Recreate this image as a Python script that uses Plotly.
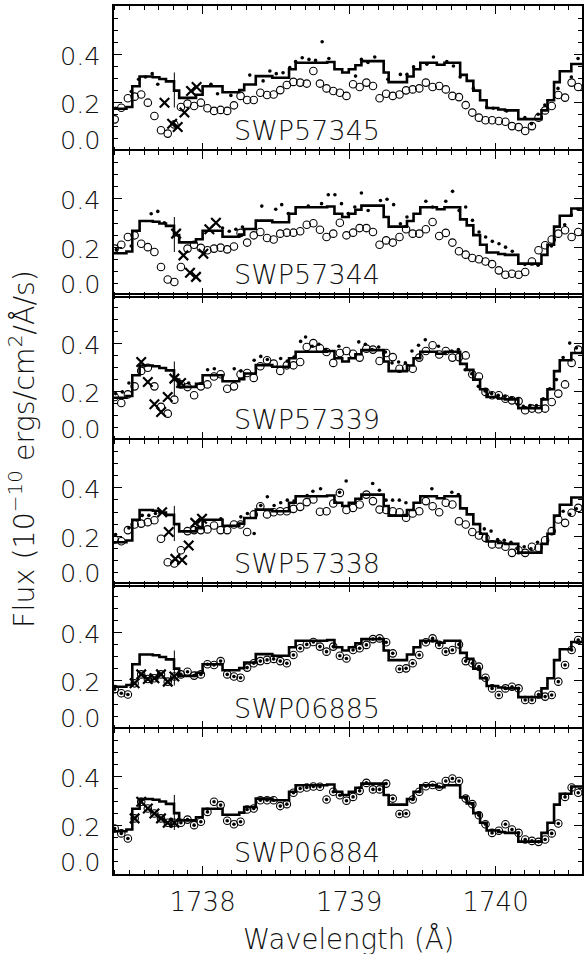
import plotly.graph_objects as go

# ---------------- data ----------------
spectra = ["SWP57345", "SWP57344", "SWP57339", "SWP57338", "SWP06885", "SWP06884"]

# model step line (left bin edges, flux in 1e-10 erg/cm2/A/s)
model_edges = [1737.39, 1737.48, 1737.52, 1737.57, 1737.66, 1737.705, 1737.75, 1737.805, 1737.84, 1737.955,
               1738.0, 1738.136, 1738.25, 1738.284, 1738.363, 1738.476, 1738.59, 1738.635, 1738.85, 1738.90,
               1738.953, 1738.998, 1739.043, 1739.084, 1739.236, 1739.27, 1739.395, 1739.44, 1739.486, 1739.599,
               1739.651, 1739.758, 1739.803, 1739.848, 1739.894, 1739.939, 1740.018, 1740.064, 1740.155, 1740.313,
               1740.354, 1740.399, 1740.438, 1740.517, 1740.60]
model_flux = [0.175, 0.182, 0.268, 0.308, 0.305, 0.298, 0.288, 0.250, 0.220, 0.233,
              0.268, 0.243, 0.252, 0.275, 0.310, 0.303, 0.338, 0.365, 0.368, 0.338,
              0.325, 0.338, 0.355, 0.372, 0.325, 0.285, 0.308, 0.338, 0.365, 0.357,
              0.365, 0.315, 0.290, 0.250, 0.210, 0.178, 0.172, 0.168, 0.132, 0.168,
              0.210, 0.285, 0.330, 0.360, 0.360]

# vertical marker
mark_wave = [1737.807, 1737.807]
mark_flux = [0.18, 0.325]

# wavelength grid of the open-circle spectra
wave = [1737.400, 1737.445, 1737.490, 1737.536, 1737.581, 1737.626, 1737.671, 1737.716, 1737.762, 1737.807,
        1737.852, 1737.897, 1737.942, 1737.988, 1738.033, 1738.078, 1738.123, 1738.168, 1738.214, 1738.259,
        1738.304, 1738.349, 1738.394, 1738.440, 1738.485, 1738.530, 1738.575, 1738.620, 1738.666, 1738.711,
        1738.756, 1738.801, 1738.846, 1738.892, 1738.937, 1738.982, 1739.027, 1739.072, 1739.118, 1739.163,
        1739.208, 1739.253, 1739.298, 1739.344, 1739.389, 1739.434, 1739.479, 1739.524, 1739.570, 1739.615,
        1739.660, 1739.705, 1739.750, 1739.796, 1739.841, 1739.886, 1739.931, 1739.976, 1740.022, 1740.067,
        1740.112, 1740.157, 1740.202, 1740.248, 1740.293, 1740.338, 1740.383, 1740.428, 1740.474, 1740.519,
        1740.564]

circ_57345 = [0.131, 0.179, 0.218, 0.225, 0.234, 0.200, 0.145, 0.086, 0.072, 0.110,
              0.182, 0.196, 0.186, 0.200, 0.177, 0.166, 0.170, 0.166, 0.189, 0.228,
              0.211, 0.211, 0.241, 0.232, 0.234, 0.252, 0.273, 0.286, 0.283, 0.279,
              0.331, 0.279, 0.259, 0.248, 0.241, 0.228, 0.276, 0.265, 0.283, 0.269,
              0.218, 0.237, 0.228, 0.234, 0.251, 0.255, 0.259, 0.283, 0.265, 0.269,
              0.255, 0.228, 0.223, 0.190, 0.159, 0.138, 0.127, 0.127, 0.124, 0.121,
              0.103, 0.099, 0.083, 0.103, 0.138, 0.168, 0.186, 0.232, 0.221, 0.283, 0.265]
circ_57344 = [0.194, 0.210, 0.242, 0.249, 0.214, 0.200, 0.180, 0.118, 0.066, 0.056,
              0.118, 0.194, 0.210, 0.197, 0.187, 0.194, 0.198, 0.191, 0.203, 0.259,
              0.219, 0.249, 0.263, 0.238, 0.232, 0.256, 0.260, 0.260, 0.266, 0.293,
              0.299, 0.272, 0.242, 0.256, 0.301, 0.249, 0.260, 0.279, 0.279, 0.263,
              0.210, 0.228, 0.219, 0.242, 0.274, 0.256, 0.256, 0.274, 0.304, 0.246,
              0.259, 0.219, 0.183, 0.169, 0.155, 0.150, 0.141, 0.130, 0.104, 0.086,
              0.090, 0.086, 0.097, 0.141, 0.187, 0.208, 0.232, 0.256, 0.270, 0.242, 0.263]
circ_57339 = [0.178, 0.153, 0.189, 0.222, 0.286, 0.299, 0.222, 0.137, 0.109, 0.167,
              0.230, 0.219, 0.185, 0.222, 0.230, 0.263, 0.272, 0.212, 0.222, 0.272,
              0.277, 0.257, 0.305, 0.330, 0.316, 0.286, 0.309, 0.309, 0.323, 0.385,
              0.401, 0.380, 0.364, 0.319, 0.360, 0.368, 0.357, 0.341, 0.378, 0.374,
              0.327, 0.360, 0.343, 0.295, 0.299, 0.295, 0.341, 0.368, 0.392, 0.354,
              0.368, 0.341, 0.343, 0.350, 0.272, 0.263, 0.199, 0.185, 0.185, 0.171,
              0.164, 0.161, 0.123, 0.130, 0.127, 0.130, 0.157, 0.192, 0.230, 0.319, 0.374]
circ_57338 = [0.186, 0.179, 0.225, 0.248, 0.252, 0.258, 0.266, 0.189, 0.092, 0.087,
              0.142, 0.221, 0.225, 0.225, 0.228, 0.244, 0.225, 0.225, 0.248, 0.248,
              0.217, 0.290, 0.324, 0.290, 0.299, 0.303, 0.303, 0.313, 0.321, 0.341,
              0.352, 0.301, 0.303, 0.335, 0.379, 0.308, 0.317, 0.331, 0.372, 0.345,
              0.310, 0.308, 0.303, 0.299, 0.276, 0.294, 0.303, 0.345, 0.324, 0.299,
              0.338, 0.331, 0.262, 0.248, 0.217, 0.203, 0.193, 0.166, 0.166, 0.156,
              0.131, 0.142, 0.131, 0.156, 0.152, 0.183, 0.221, 0.269, 0.255, 0.297, 0.317]
circ_06885 = [0.165, 0.148, 0.143, 0.189, 0.226, 0.207, 0.210, 0.226, 0.196, 0.217,
              0.226, 0.237, 0.221, 0.226, 0.268, 0.265, 0.281, 0.226, 0.217, 0.212,
              0.254, 0.272, 0.281, 0.286, 0.290, 0.281, 0.272, 0.306, 0.334, 0.350,
              0.360, 0.341, 0.320, 0.341, 0.303, 0.292, 0.327, 0.334, 0.348, 0.372,
              0.375, 0.359, 0.313, 0.248, 0.251, 0.272, 0.306, 0.359, 0.375, 0.348,
              0.320, 0.327, 0.350, 0.281, 0.272, 0.258, 0.212, 0.168, 0.141, 0.168,
              0.175, 0.168, 0.120, 0.120, 0.143, 0.134, 0.141, 0.196, 0.265, 0.327, 0.368]
circ_06884 = [0.186, 0.166, 0.145, 0.228, 0.297, 0.269, 0.248, 0.228, 0.210, 0.210,
              0.210, 0.223, 0.200, 0.214, 0.255, 0.297, 0.283, 0.218, 0.204, 0.214,
              0.265, 0.269, 0.303, 0.303, 0.303, 0.279, 0.287, 0.334, 0.352, 0.356,
              0.360, 0.359, 0.306, 0.338, 0.324, 0.301, 0.317, 0.342, 0.375, 0.348,
              0.348, 0.372, 0.310, 0.246, 0.248, 0.306, 0.338, 0.361, 0.366, 0.359,
              0.383, 0.393, 0.383, 0.310, 0.287, 0.241, 0.204, 0.168, 0.177, 0.204,
              0.182, 0.168, 0.141, 0.135, 0.131, 0.141, 0.166, 0.207, 0.317, 0.356, 0.334]

# filled-dot spectra
dots_57345_w = [1737.406, 1737.513, 1737.563, 1737.610, 1737.656, 1737.694, 1738.057, 1738.102, 1738.193, 1738.322,
                1738.413, 1738.459, 1738.503, 1738.549, 1738.595, 1738.635, 1738.680, 1738.726, 1738.771, 1738.816,
                1738.862, 1739.044, 1739.084, 1739.129, 1739.175, 1739.265, 1739.350, 1739.395, 1739.440, 1739.531,
                1739.576, 1739.667, 1739.712, 1739.758, 1739.848, 1739.939, 1739.984, 1740.075, 1740.200, 1740.245,
                1740.290, 1740.336, 1740.426, 1740.517, 1740.563]
dots_57345_f = [0.177, 0.246, 0.297, 0.306, 0.320, 0.276, 0.276, 0.237, 0.230, 0.314,
                0.290, 0.331, 0.320, 0.324, 0.345, 0.370, 0.386, 0.379, 0.375, 0.452,
                0.383, 0.310, 0.379, 0.366, 0.389, 0.297, 0.317, 0.317, 0.348, 0.359,
                0.389, 0.370, 0.352, 0.306, 0.259, 0.182, 0.177, 0.166, 0.138, 0.113,
                0.152, 0.190, 0.259, 0.306, 0.383]
dots_57344_w = [1737.411, 1737.513, 1737.649, 1737.694, 1737.739, 1738.136, 1738.182, 1738.227, 1738.272, 1738.404,
                1738.499, 1738.540, 1738.585, 1738.721, 1738.812, 1738.858, 1738.903, 1738.948, 1738.994, 1739.039,
                1739.084, 1739.130, 1739.214, 1739.259, 1739.304, 1739.350, 1739.395, 1739.524, 1739.570, 1739.660,
                1739.706, 1739.751, 1739.796, 1739.842, 1739.887, 1739.932, 1739.978, 1740.023, 1740.068, 1740.114,
                1740.200, 1740.290, 1740.381, 1740.472, 1740.517, 1740.563]
dots_57344_f = [0.190, 0.205, 0.338, 0.348, 0.301, 0.279, 0.266, 0.274, 0.283, 0.370,
                0.357, 0.376, 0.339, 0.370, 0.380, 0.417, 0.417, 0.380, 0.339, 0.366,
                0.424, 0.352, 0.393, 0.398, 0.376, 0.297, 0.325, 0.390, 0.366, 0.390,
                0.431, 0.352, 0.366, 0.311, 0.263, 0.242, 0.224, 0.214, 0.200, 0.183,
                0.128, 0.125, 0.205, 0.293, 0.334, 0.357]
dots_57339_w = [1737.406, 1737.452, 1737.497, 1737.905, 1738.034, 1738.080, 1738.216, 1738.261, 1738.352, 1738.397,
                1738.442, 1738.533, 1738.578, 1738.624, 1738.669, 1738.703, 1738.748, 1738.794, 1738.839, 1738.930,
                1739.066, 1739.111, 1739.157, 1739.202, 1739.248, 1739.293, 1739.338, 1739.384, 1739.429, 1739.474,
                1739.520, 1739.610, 1739.656, 1739.701, 1739.746, 1739.792, 1739.837, 1739.882, 1739.928, 1739.973,
                1740.018, 1740.064, 1740.109, 1740.150, 1740.189, 1740.234, 1740.279, 1740.325, 1740.370, 1740.415,
                1740.461, 1740.506, 1740.551]
dots_57339_f = [0.192, 0.199, 0.236, 0.236, 0.291, 0.295, 0.295, 0.286, 0.330, 0.346,
                0.333, 0.337, 0.327, 0.343, 0.408, 0.426, 0.388, 0.396, 0.374, 0.388,
                0.406, 0.396, 0.374, 0.385, 0.364, 0.319, 0.323, 0.319, 0.368, 0.392,
                0.415, 0.388, 0.360, 0.368, 0.374, 0.291, 0.274, 0.222, 0.203, 0.192,
                0.185, 0.181, 0.175, 0.148, 0.139, 0.143, 0.143, 0.171, 0.212, 0.250,
                0.341, 0.401, 0.381]
dots_57338_w = [1737.406, 1737.497, 1737.588, 1737.633, 1737.678, 1738.125, 1738.261, 1738.306, 1738.352, 1738.397,
                1738.442, 1738.488, 1738.533, 1738.578, 1738.624, 1738.714, 1738.753, 1738.805, 1738.935, 1738.980,
                1739.161, 1739.207, 1739.252, 1739.297, 1739.343, 1739.388, 1739.565, 1739.701, 1739.746, 1739.923,
                1739.969, 1740.014, 1740.059, 1740.105, 1740.150, 1740.195, 1740.241, 1740.286, 1740.461, 1740.506,
                1740.551]
dots_57338_f = [0.207, 0.234, 0.286, 0.286, 0.294, 0.272, 0.280, 0.294, 0.211, 0.327,
                0.363, 0.327, 0.338, 0.349, 0.345, 0.368, 0.386, 0.396, 0.382, 0.428,
                0.418, 0.390, 0.349, 0.349, 0.349, 0.338, 0.396, 0.382, 0.372, 0.230,
                0.221, 0.186, 0.183, 0.175, 0.148, 0.156, 0.148, 0.175, 0.303, 0.290,
                0.313]

# crosses
x_57345_w = [1737.740, 1737.792, 1737.830, 1737.876, 1737.921, 1737.959]
x_57345_f = [0.200, 0.113, 0.099, 0.159, 0.248, 0.265]
x_57344_w = [1737.819, 1737.869, 1737.914, 1737.955, 1738.005, 1738.046, 1738.091]
x_57344_f = [0.256, 0.166, 0.094, 0.077, 0.173, 0.274, 0.301]
x_57339_w = [1737.581, 1737.626, 1737.671, 1737.717, 1737.762, 1737.807, 1737.853]
x_57339_f = [0.323, 0.240, 0.148, 0.116, 0.178, 0.254, 0.236]
x_57338_w = [1737.724, 1737.769, 1737.814, 1737.860, 1737.905, 1737.950, 1737.996]
x_57338_f = [0.299, 0.217, 0.106, 0.101, 0.161, 0.255, 0.272]
x_06885_w = [1737.536, 1737.581, 1737.626, 1737.671, 1737.716, 1737.762, 1737.807]
x_06885_f = [0.189, 0.226, 0.207, 0.210, 0.226, 0.196, 0.217]
x_06884_w = [1737.536, 1737.581, 1737.626, 1737.671, 1737.716, 1737.762, 1737.807]
x_06884_f = [0.228, 0.297, 0.269, 0.248, 0.228, 0.210, 0.210]

circles = [circ_57345, circ_57344, circ_57339, circ_57338, circ_06885, circ_06884]
dots = [(dots_57345_w, dots_57345_f), (dots_57344_w, dots_57344_f), (dots_57339_w, dots_57339_f),
        (dots_57338_w, dots_57338_f), (wave, circ_06885), (wave, circ_06884)]
crosses = [(x_57345_w, x_57345_f), (x_57344_w, x_57344_f), (x_57339_w, x_57339_f),
           (x_57338_w, x_57338_f), (x_06885_w, x_06885_f), (x_06884_w, x_06884_f)]

x_major = [1738, 1739, 1740]
x_major_text = ["1738", "1739", "1740"]
y_label_vals = [0.0, 0.2, 0.4]
y_label_text = ["0.0", "0.2", "0.4"]

# ---------------- layout ----------------
W, H = 584, 954
LEFT, RIGHT = 114, 584
XR = [1737.3925, 1740.5898]
FONT = "DejaVu Sans ExtraLight, DejaVu Sans"
WT = 200
TXT = "#111111"

fig = go.Figure()
layout = dict(width=W, height=H, margin=dict(l=0, r=0, t=0, b=0),
              paper_bgcolor="white", plot_bgcolor="white", showlegend=False,
              font=dict(family=FONT, size=25, color=TXT, weight=WT))
annotations = []

for i in range(6):
    top = 6 + 144.5 * i
    bot = 151 + 144.5 * i
    sfx = "" if i == 0 else str(i + 1)
    xa, ya = "x" + sfx, "y" + sfx
    fig.add_trace(go.Scatter(x=model_edges, y=model_flux, mode="lines",
                             line=dict(shape="hv", color="black", width=2.6),
                             xaxis=xa, yaxis=ya, hoverinfo="skip"))
    fig.add_trace(go.Scatter(x=mark_wave, y=mark_flux, mode="lines",
                             line=dict(color="black", width=1), xaxis=xa, yaxis=ya))
    fig.add_trace(go.Scatter(x=wave, y=circles[i], mode="markers",
                             marker=dict(symbol="circle-open", size=7.5, color="black",
                                         line=dict(width=1.1, color="black")),
                             xaxis=xa, yaxis=ya))
    dw, df = dots[i]
    fig.add_trace(go.Scatter(x=dw, y=df, mode="markers",
                             marker=dict(symbol="circle", size=3.6, color="black"),
                             xaxis=xa, yaxis=ya))
    cw, cf = crosses[i]
    fig.add_trace(go.Scatter(x=cw, y=cf, mode="markers",
                             marker=dict(symbol="x-thin-open", size=9.5, color="black",
                                         line=dict(width=2.2, color="black")),
                             xaxis=xa, yaxis=ya))
    layout["xaxis" + sfx] = dict(
        domain=[LEFT / W, RIGHT / W], range=XR, anchor=ya,
        showline=True, linecolor="black", linewidth=2, mirror="ticks",
        ticks="inside", ticklen=8, tickwidth=1, tickcolor="black",
        tickvals=x_major, ticktext=x_major_text,
        minor=dict(dtick=0.1, tick0=1737.0, ticks="inside", ticklen=4, tickwidth=1, tickcolor="black"),
        showgrid=False, zeroline=False, showticklabels=(i == 5),
        tickfont=dict(family=FONT, size=26, color=TXT, weight=WT), ticklabelstandoff=4)
    layout["yaxis" + sfx] = dict(
        domain=[1 - bot / H, 1 - top / H], range=[0, 0.6], anchor=xa,
        showline=True, linecolor="black", linewidth=2, mirror="ticks",
        ticks="inside", ticklen=8, tickwidth=1, tickcolor="black",
        tickvals=[0, 0.2, 0.4, 0.6],
        minor=dict(dtick=0.05, tick0=0, ticks="inside", ticklen=4, tickwidth=1, tickcolor="black"),
        showgrid=False, zeroline=False, showticklabels=False)
    for v, t in zip(y_label_vals, y_label_text):
        annotations.append(dict(x=103.5 / W, xref="paper", xanchor="right",
                                y=v, yref=ya, yanchor="middle",
                                yshift=(11.5 if v == 0 else -1.5),
                                text=t, showarrow=False,
                                font=dict(family=FONT, size=25.5, color=TXT, weight=WT)))
    annotations.append(dict(x=1738.200, xref=xa, xanchor="left", y=0.085, yref=ya, yanchor="middle",
                            text=spectra[i], showarrow=False,
                            font=dict(family=FONT, size=27, color=TXT, weight=WT)))

annotations.append(dict(x=350 / W, y=1 - 938 / H, xref="paper", yref="paper",
                        xanchor="center", yanchor="middle", showarrow=False,
                        text="Wavelength (Å)", font=dict(family=FONT, size=27.5, color=TXT, weight=WT)))
annotations.append(dict(x=22 / W, y=1 - 449 / H, xref="paper", yref="paper",
                        xanchor="center", yanchor="middle", showarrow=False, textangle=-90,
                        text="Flux (10<sup>−10</sup> ergs/cm<sup>2</sup>/Å/s)",
                        font=dict(family=FONT, size=28.5, color=TXT, weight=WT)))
layout["annotations"] = annotations
fig.update_layout(**layout)
fig.write_html("out.html")
